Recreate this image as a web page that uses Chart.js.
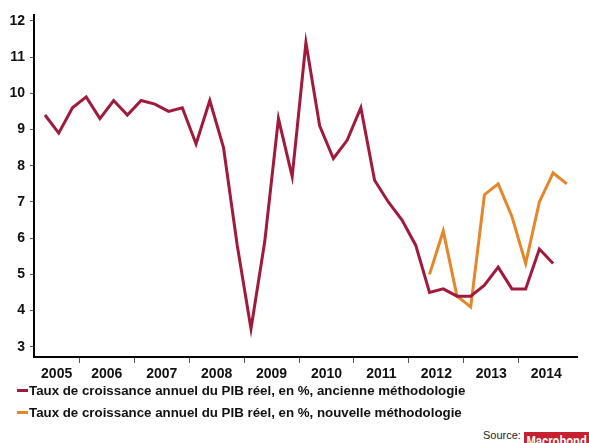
<!DOCTYPE html>
<html>
<head>
<meta charset="utf-8">
<script src="https://cdn.jsdelivr.net/npm/chart.js@4.4.1/dist/chart.umd.min.js"></script>
<style>
  body { margin: 0; background: #fff; font-family: "Liberation Sans", Arial, sans-serif; }
  #wrap { position: relative; width: 589px; height: 443px; overflow: hidden; }
  #chart { position: absolute; left: 0; top: 0; }
  #legend { position: absolute; left: 17px; top: 380px; font-weight: bold; font-size: 13.3px; color: #111; }
  #legend .item { height: 22px; line-height: 22px; white-space: nowrap; }
  #legend .swatch { display: inline-block; width: 11px; height: 3px; vertical-align: middle; margin-right: 1px; position: relative; top: -1px; }
  #source { position: absolute; left: 483px; top: 429px; font-size: 11px; color: #222; }
  #brand { position: absolute; left: 524px; top: 432px; width: 70px; height: 16px; background: #c7202e; }
  #brand span { display: inline-block; color: #fff; font-weight: bold; font-size: 14px; line-height: 15px;
                padding-left: 3px; transform: scaleX(0.8); transform-origin: left top; white-space: nowrap; }
</style>
</head>
<body>
<div id="wrap">
  <canvas id="chart" width="589" height="385"></canvas>
  <div id="legend"></div>
  <div id="source">Source:</div>
  <div id="brand"><span>Macrobond</span></div>
</div>
<script>
// Quarterly data, annual real GDP growth (%)
const oldQuarters = [
  '2005Q2', '2005Q3', '2005Q4',
  '2006Q1', '2006Q2', '2006Q3', '2006Q4',
  '2007Q1', '2007Q2', '2007Q3', '2007Q4',
  '2008Q1', '2008Q2', '2008Q3', '2008Q4',
  '2009Q1', '2009Q2', '2009Q3', '2009Q4',
  '2010Q1', '2010Q2', '2010Q3', '2010Q4',
  '2011Q1', '2011Q2', '2011Q3', '2011Q4',
  '2012Q1', '2012Q2', '2012Q3', '2012Q4',
  '2013Q1', '2013Q2', '2013Q3', '2013Q4',
  '2014Q1', '2014Q2', '2014Q3'
];
const oldValues = [
  9.4, 8.9, 9.6,
  9.9, 9.3, 9.8, 9.4,
  9.8, 9.7, 9.5, 9.6,
  8.6, 9.8, 8.5, 5.8,
  3.5, 5.9, 9.3, 7.7,
  11.4, 9.1, 8.2, 8.7,
  9.6, 7.6, 7.0, 6.5,
  5.8, 4.5, 4.6, 4.4,
  4.4, 4.7, 5.2, 4.6,
  4.6, 5.7, 5.3
];
const newQuarters = [
  '2012Q2', '2012Q3', '2012Q4',
  '2013Q1', '2013Q2', '2013Q3', '2013Q4',
  '2014Q1', '2014Q2', '2014Q3', '2014Q4'
];
const newValues = [
  5.0, 6.2, 4.4,
  4.1, 7.2, 7.5, 6.6,
  5.3, 7.0, 7.8, 7.5
];
const seriesNames = [
  'Taux de croissance annuel du PIB réel, en %, ancienne méthodologie',
  'Taux de croissance annuel du PIB réel, en %, nouvelle méthodologie'
];
const seriesColors = ['#a11a3b', '#e5862b'];
const years = ['2005', '2006', '2007', '2008', '2009', '2010', '2011', '2012', '2013', '2014'];
const yTicks = [3, 4, 5, 6, 7, 8, 9, 10, 11, 12];

// x range of the visible axis (in years)
const xMin = 2005.175;
const xMax = 2015.06;

// quarter label -> middle of the quarter on a year scale
function quarterPos(q) {
  const y = parseInt(q.slice(0, 4));
  const n = parseInt(q.slice(5));
  return y + (n - 0.5) / 4;
}
function toPoints(quarters, values) {
  return quarters.map((q, i) => ({ x: quarterPos(q), y: values[i] }));
}

// year separators and label positions (centred on the visible part of each year)
const yearLabels = {};
const xTickValues = [];
years.forEach(y => {
  const start = Math.max(+y, xMin);
  const end = Math.min(+y + 1, xMax);
  const mid = (start + end) / 2;
  yearLabels[mid.toFixed(4)] = y;
  xTickValues.push(mid);
  if (+y > xMin) xTickValues.push(+y);
});

const tickFont = { family: '"Liberation Sans", Arial, sans-serif', size: 14, weight: 'bold' };

new Chart(document.getElementById('chart').getContext('2d'), {
  type: 'line',
  data: {
    datasets: [
      {
        label: seriesNames[0],
        data: toPoints(oldQuarters, oldValues),
        borderColor: seriesColors[0],
        borderWidth: 3,
        pointRadius: 0,
        tension: 0
      },
      {
        label: seriesNames[1],
        data: toPoints(newQuarters, newValues),
        borderColor: seriesColors[1],
        borderWidth: 3,
        pointRadius: 0,
        tension: 0
      }
    ]
  },
  options: {
    responsive: false,
    animation: false,
    layout: { padding: { top: 15, right: 12, left: 0, bottom: 0 } },
    plugins: {
      legend: { display: false },
      tooltip: { enabled: false }
    },
    scales: {
      x: {
        type: 'linear',
        min: xMin,
        max: xMax,
        afterBuildTicks: scale => {
          scale.ticks = xTickValues.map(v => ({ value: v }));
        },
        afterFit: scale => { scale.height = 28; },
        border: { color: '#000', width: 2 },
        grid: {
          drawOnChartArea: false,
          tickLength: 6,
          tickWidth: 1,
          tickColor: ctx => (ctx.tick && Number.isInteger(ctx.tick.value)) ? '#555' : 'rgba(0,0,0,0)'
        },
        ticks: {
          autoSkip: false,
          maxRotation: 0,
          padding: 3,
          color: '#111',
          font: tickFont,
          callback: value => yearLabels[Number(value).toFixed(4)] || ''
        }
      },
      y: {
        min: 2.72,
        max: 12.16,
        afterBuildTicks: scale => {
          scale.ticks = yTicks.map(v => ({ value: v }));
        },
        afterFit: scale => { scale.width = 34; },
        border: { color: '#000', width: 2 },
        grid: {
          drawOnChartArea: false,
          tickLength: 4,
          tickColor: '#555'
        },
        ticks: {
          padding: 5,
          color: '#111',
          font: tickFont
        }
      }
    }
  }
});

// legend
const legend = document.getElementById('legend');
seriesNames.forEach((name, i) => {
  const item = document.createElement('div');
  item.className = 'item';
  item.innerHTML = '<span class="swatch" style="background:' + seriesColors[i] + '"></span>' + name;
  legend.appendChild(item);
});
</script>
</body>
</html>
